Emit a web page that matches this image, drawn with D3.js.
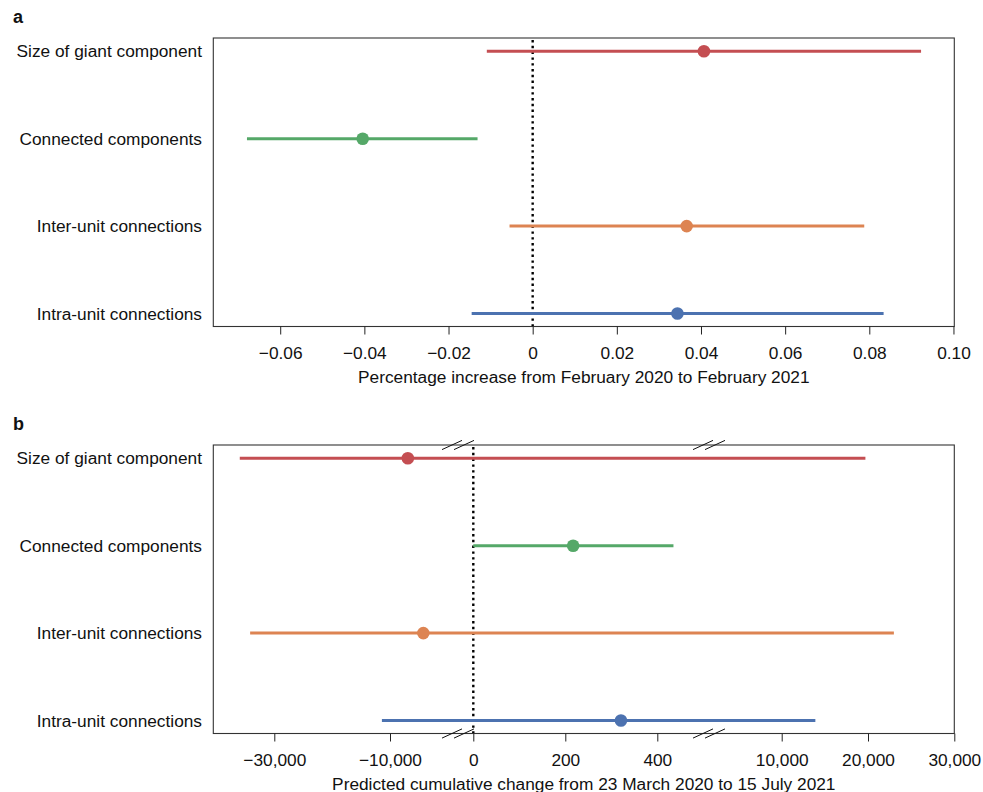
<!DOCTYPE html>
<html>
<head>
<meta charset="utf-8">
<script src="https://cdn.jsdelivr.net/npm/d3@7"></script>
<style>
  body { margin: 0; background: #fff; }
  svg { display: block; }
  text { font-family: "Liberation Sans", Arial, sans-serif; fill: #111; }
</style>
</head>
<body>
<svg id="chart" width="983" height="792"></svg>
<script>
// ---------- data ----------
const categories = ["Size of giant component", "Connected components", "Inter-unit connections", "Intra-unit connections"];
const seriesColors = ["#c44e52", "#55a868", "#dd8452", "#4c72b0"];

// Panel a: percentage increase Feb 2020 -> Feb 2021
const aEstimate = [0.0407, -0.0404, 0.0366, 0.0344];
const aLower    = [-0.0109, -0.0679, -0.0055, -0.0145];
const aUpper    = [0.0923, -0.0131, 0.0788, 0.0834];
const aTicks    = [-0.06, -0.04, -0.02, 0, 0.02, 0.04, 0.06, 0.08, 0.10];
const aTitle    = "Percentage increase from February 2020 to February 2021";

// Panel b: predicted cumulative change 23 Mar 2020 -> 15 Jul 2021 (broken axis)
const bEstimate = [-7700, 217, -5700, 321];
const bLower    = [-36000, 0, -34200, -11400];
const bUpper    = [19700, 435, 23000, 13900];
const bTicks    = [-30000, -10000, 0, 200, 400, 10000, 20000, 30000];
const bTitle    = "Predicted cumulative change from 23 March 2020 to 15 July 2021";
// broken-axis segments: value stops of the piecewise scale
const bDomainStops = [-40600, -30000, -10000, -2000, -20, 0, 400, 499, 2270, 10000, 30000];

// ---------- layout ----------
const svg = d3.select("#chart");
const X0 = 213.3, X1 = 954.3;
const fs = 17.3;

function panel(cfg) {
  const g = svg.append("g");
  const y = d3.scalePoint().domain(categories).range([cfg.top + 13.3, cfg.bottom - 13]);
  const x = cfg.x;

  // zero reference line (dotted)
  g.append("line")
    .attr("x1", x(0)).attr("x2", x(0))
    .attr("y1", cfg.top + 2).attr("y2", cfg.bottom)
    .attr("stroke", "#000").attr("stroke-width", 2.4)
    .attr("stroke-dasharray", "2.4,3.4");

  // error bars
  categories.forEach((c, i) => {
    g.append("line")
      .attr("x1", x(cfg.lo[i])).attr("x2", x(cfg.hi[i]))
      .attr("y1", y(c)).attr("y2", y(c))
      .attr("stroke", seriesColors[i]).attr("stroke-width", 3);
    g.append("circle")
      .attr("cx", x(cfg.est[i])).attr("cy", y(c)).attr("r", 6.3)
      .attr("fill", seriesColors[i]);
  });

  // box
  g.append("rect")
    .attr("x", X0).attr("y", cfg.top)
    .attr("width", X1 - X0).attr("height", cfg.bottom - cfg.top)
    .attr("fill", "none").attr("stroke", "#333").attr("stroke-width", 1.1);

  // category labels
  categories.forEach(c => {
    g.append("text")
      .attr("x", 202).attr("y", y(c) + 6)
      .attr("text-anchor", "end").attr("font-size", fs)
      .text(c);
  });

  // x axis
  const axis = d3.axisBottom(x).tickValues(cfg.ticks).tickSize(8).tickPadding(12)
    .tickFormat(cfg.fmt);
  const ax = g.append("g").attr("transform", `translate(0,${cfg.bottom})`).call(axis);
  ax.select(".domain").remove();
  ax.selectAll(".tick line").attr("stroke", "#222");
  ax.selectAll(".tick text").attr("font-size", fs).attr("font-family", '"Liberation Sans", Arial, sans-serif').attr("fill", "#111");

  g.append("text")
    .attr("x", (X0 + X1) / 2).attr("y", cfg.bottom + 56)
    .attr("text-anchor", "middle").attr("font-size", fs)
    .text(cfg.title);

  // panel letter
  g.append("text")
    .attr("x", 13).attr("y", cfg.top - 15)
    .attr("font-size", 18).attr("font-weight", "bold")
    .text(cfg.letter);

  return g;
}

// Panel a
const xa = d3.scaleLinear().domain([-0.0759, 0.1002]).range([X0, X1]);
panel({
  x: xa, top: 38, bottom: 326.5, lo: aLower, hi: aUpper, est: aEstimate,
  ticks: aTicks, title: aTitle, letter: "a",
  fmt: d => d === 0 ? "0" : d3.format(".2f")(d)
});

// Panel b (piecewise linear scale with breaks)
const bRangeStops = [X0, 274.3, 390, 452, 464, 473.3, 657.3, 703, 715, 781.7, X1];
const xb = d3.scaleLinear().domain(bDomainStops).range(bRangeStops);
const gb = panel({
  x: xb, top: 445, bottom: 733.5, lo: bLower, hi: bUpper, est: bEstimate,
  ticks: bTicks, title: bTitle, letter: "b",
  fmt: d => d3.format(",")(d)
});

// break marks (pairs of slanted strokes) at each gap, top and bottom of the box
const breaks = [[-2000, -20], [499, 2270]];
breaks.forEach(([v1, v2]) => {
  [445, 733.5].forEach(yy => {
    [v1, v2].forEach(v => {
      const cx = xb(v);
      gb.append("line")
        .attr("x1", cx - 10).attr("y1", yy + 4.6)
        .attr("x2", cx + 10).attr("y2", yy - 4.6)
        .attr("stroke", "#111").attr("stroke-width", 1);
    });
  });
});
</script>
</body>
</html>
